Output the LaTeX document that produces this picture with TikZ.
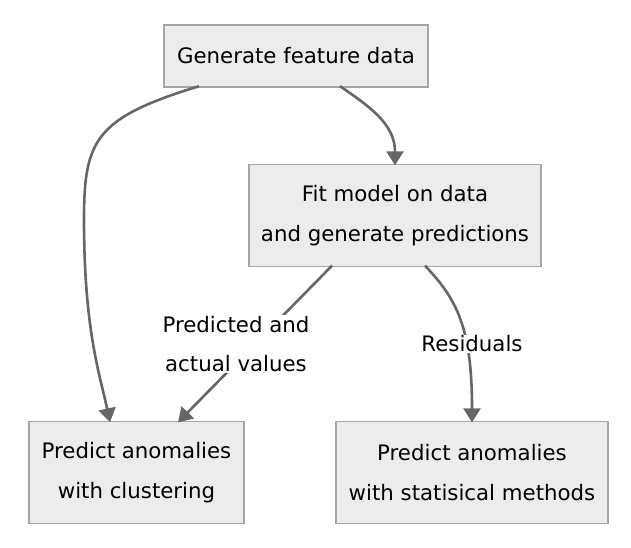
\documentclass[tikz,border=0pt]{standalone}
\usepackage{fontspec}
\setmainfont{DejaVu Sans}
\usetikzlibrary{arrows.meta}
\definecolor{boxfill}{HTML}{ECECEC}
\definecolor{boxline}{HTML}{A5A5A5}
\definecolor{edgecol}{HTML}{666666}
\tikzset{
  box/.style={draw=boxline, fill=boxfill, line width=1.4pt, align=center, inner sep=0pt,
    font=\fontsize{21.3}{39.5}\selectfont},
  edge/.style={draw=edgecol, line width=2.6pt, -{Triangle[length=14pt,width=17pt]}},
  lbl/.style={fill=white, align=center, inner sep=1pt, font=\fontsize{21.3}{39.5}\selectfont}
}
\begin{document}
\begin{tikzpicture}[x=1pt,y=-1pt]
\useasboundingbox (0,0) rectangle (631,547);
\node[box, minimum width=264pt, minimum height=62pt] (A) at (296,56) {Generate feature data};
\node[box, minimum width=292pt, minimum height=102pt] (B) at (395,215.5) {Fit model on data\\and generate predictions};
\node[box, minimum width=215pt, minimum height=102pt] (C) at (136.5,472.5) {Predict anomalies\\with clustering};
\node[box, minimum width=272pt, minimum height=102pt] (D) at (472,472.5) {Predict anomalies\\with statisical methods};
% A -> C
\draw[edge] ([xshift=-97pt,yshift=1.5pt]A.south) .. controls (95,118) and (84,140) .. (84,220)
  .. controls (84,330) and (100,375) .. ([xshift=-26.5pt,yshift=-1.5pt]C.north);
% A -> B
\draw[edge] ([xshift=44pt,yshift=1.5pt]A.south) .. controls (372,108) and (395,125) .. ([yshift=-1.5pt]B.north);
% B -> C
\draw[edge] ([xshift=-63pt,yshift=1.5pt]B.south) -- ([xshift=41.5pt,yshift=-1.5pt]C.north);
% B -> D
\draw[edge] ([xshift=30pt,yshift=1.5pt]B.south) .. controls (458,300) and (472,330) .. ([yshift=-1.5pt]D.north);
\node[lbl] (L1) at (236,344) {Predicted and\\actual values};
\node[lbl] (L2) at (472,344) {Residuals};
\end{tikzpicture}
\end{document}
